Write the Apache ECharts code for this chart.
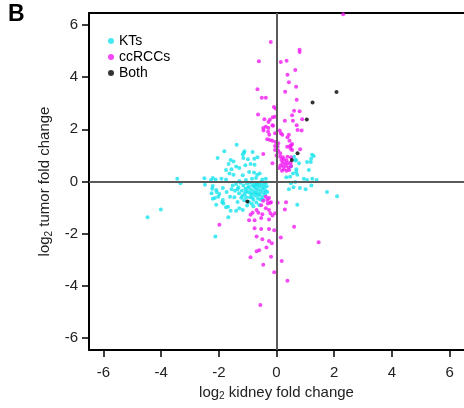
<!DOCTYPE html>
<html>
<head>
<meta charset="utf-8">
<script src="https://cdn.jsdelivr.net/npm/echarts@6/dist/echarts.min.js"></script>
<style>
  html, body { margin: 0; padding: 0; background: #fff; }
  #chart { width: 464px; height: 408px; }
</style>
</head>
<body>
<div id="chart"></div>
<script>
  // tick positions on both axes
  const tickValues = [-6, -4, -2, 0, 2, 4, 6];

  // genes changed in both kidney and tumour
  const bothPoints = [
    [2.08, 3.43], [1.25, 3.02], [1.05, 2.37], [0.73, 1.08], [0.53, 0.82], [-1.01, -0.77]
  ];

  // ccRCC specific
  const ccrccPoints = [
    [2.31, 6.4], [-0.2, 5.34], [0.8, 5.04], [0.8, 4.96], [-0.61, 4.6], [0.15, 4.57], [0.35, 4.62],
    [0.65, 4.27], [0.38, 4.09], [0.43, 3.8], [0.68, 3.63], [-0.66, 3.53], [0.3, 3.44], [-0.51, 3.21],
    [-0.37, 3.21], [0.7, 3.13], [-0.09, 2.85], [-0.03, 2.79], [0.61, 2.71], [0.8, 2.69], [-0.64, 2.56],
    [-0.13, 2.46], [-0.05, 2.48], [0.54, 2.54], [-0.42, 2.38], [-0.23, 2.36], [0.29, 2.33], [0.57, 2.33],
    [0.89, 2.38], [-0.28, 2.28], [-0.14, 2.15], [-0.37, 2.1], [-0.46, 2.05], [-0.28, 2.05], [-0.12, 2.13],
    [0.7, 2.15], [0.73, 1.97], [0.87, 1.95], [-0.45, 1.95], [-0.29, 1.9], [0.11, 1.95], [0.15, 1.85],
    [0.2, 1.79], [0.43, 1.79], [-0.25, 1.79], [-0.05, 1.85], [-0.32, 1.62], [-0.23, 1.59], [-0.14, 1.56],
    [0.38, 1.69], [0.45, 1.56], [-0.03, 1.51], [0.06, 1.46], [0.54, 1.44], [0.47, 1.36], [-0.05, 1.36],
    [0.04, 1.33], [0.37, 1.33], [0.51, 1.39], [0.82, 1.23], [0.49, 1.26], [0.54, 1.21], [-0.46, 1.05],
    [-0.05, 1.21], [0.06, 1.18], [0.13, 1.08], [0.0, 1.0], [0.13, 0.95], [0.22, 0.93], [0.38, 0.95],
    [0.5, 0.93], [-0.14, 0.7],
    [0.17, 0.82], [0.26, 0.85], [0.35, 0.8], [0.21, 0.72], [0.3, 0.7], [0.4, 0.7], [0.49, 0.72],
    [0.14, 0.62], [0.23, 0.57], [0.33, 0.59], [0.42, 0.54], [0.51, 0.59], [0.26, 0.47], [0.35, 0.41],
    [0.19, 0.41], [0.44, 0.44], [0.1, 0.52],
    [-0.37, -0.58], [-0.26, -0.63], [-0.46, -0.74], [-0.3, -0.84], [-0.19, -0.79], [-0.53, -0.91],
    [-0.37, -1.02], [-0.26, -1.09], [-0.69, -1.09], [-0.83, -1.2], [-0.63, -1.2], [-0.49, -1.25],
    [-0.21, -1.22], [-0.05, -1.22], [0.04, -0.81], [0.29, -1.07], [0.33, -0.79], [-0.9, -1.27],
    [-0.95, -1.48], [-0.76, -1.48], [-0.53, -1.4], [-0.26, -1.45], [-0.14, -1.3], [-0.32, -0.71],
    [-0.22, -0.81],
    [-0.76, -1.79], [-0.53, -1.82], [-0.26, -1.82], [-0.08, -1.87], [-0.69, -2.11], [-0.49, -2.21],
    [-0.26, -2.28], [-0.16, -2.36], [-0.35, -2.53], [-0.6, -2.63], [-0.69, -2.67], [-0.9, -2.9],
    [-0.19, -2.88], [-0.46, -3.19], [-0.08, -3.47], [0.18, -3.04], [0.15, -2.14], [0.61, -1.73],
    [0.38, -3.8], [1.46, -2.33], [-0.56, -4.73], [-1.98, -1.66]
  ];

  // kidney tumour (KT) specific
  const ktPoints = [
    [-4.47, -1.37], [-4.01, -1.07], [-3.44, 0.11], [-3.33, -0.07], [-2.12, -2.11], [-1.67, -1.37],
    [-2.09, -0.89],
    [-2.5, 0.12], [-2.48, -0.12], [-2.21, 0.13], [-2.11, 0.08], [-2.27, 0.06], [-1.91, 0.11], [-1.75, 0.08],
    [-2.21, -0.17], [-2.09, -0.33], [-2.25, -0.45], [-1.98, -0.48], [-2.14, -0.63], [-1.88, -0.79],
    [-1.61, -0.58], [-1.73, -0.4], [-1.86, -0.25], [-1.56, -0.3], [-2.23, -0.28], [-2.07, -0.4],
    [-2.21, -0.66], [-1.84, -0.84], [-1.59, -1.12], [-1.4, -1.12], [-1.68, -0.97], [-1.29, -1.02],
    [-1.17, -1.09], [-2.02, -0.58], [-1.86, -0.71], [-1.75, -0.99],
    [-1.38, 1.41], [-1.11, 1.16], [-1.81, 1.16], [-2.04, 0.9], [-1.17, 1.03], [-1.59, 0.82], [-1.49, 0.77],
    [-1.66, 0.67], [-1.15, 0.9], [-0.99, 0.85], [-0.9, 0.67], [-1.08, 0.62], [-0.76, 0.64], [-1.4, 0.57],
    [-1.29, 0.52], [-1.56, 0.47], [-1.75, 0.44], [-0.95, 0.36], [-0.78, 0.34], [-0.67, 0.26], [-0.58, 0.31],
    [-1.63, 0.31], [-1.49, 0.26], [-1.17, 0.24], [-1.13, 1.1], [-0.83, 1.13], [-0.77, 0.87], [-0.66, 0.93],
    [-1.29, 0.02], [-1.06, 0.06], [-0.85, 0.11], [-0.71, 0.13], [-0.49, 0.08], [-0.37, 0.11],
    [-1.4, -0.1], [-1.32, -0.22], [-1.25, -0.05], [-1.2, -0.35], [-1.15, -0.15], [-1.1, -0.48],
    [-1.08, -0.28], [-1.02, -0.08], [-0.98, -0.4], [-0.95, -0.2], [-0.92, -0.6], [-0.9, -0.05],
    [-0.88, -0.32], [-0.85, -0.5], [-0.82, -0.15], [-0.8, -0.7], [-0.78, -0.38], [-0.76, -0.05],
    [-0.74, -0.25], [-0.72, -0.55], [-0.7, -0.12], [-0.68, -0.42], [-0.66, -0.3], [-0.64, -0.65],
    [-0.62, -0.08], [-0.6, -0.2], [-0.58, -0.48], [-0.56, -0.35], [-0.54, -0.02], [-0.52, -0.15],
    [-0.5, -0.58], [-0.48, -0.28], [-0.46, -0.42], [-0.44, -0.1], [-0.42, -0.22], [-0.4, -0.5],
    [-0.38, -0.35], [-0.36, -0.05], [-0.34, -0.18], [-0.32, -0.4], [-1.3, -0.45], [-1.22, -0.62],
    [-1.12, -0.72], [-1.05, -0.6], [-0.96, -0.78], [-0.86, -0.85], [-0.7, -0.8], [-0.62, -0.52],
    [-1.35, -0.3], [-1.18, -0.55], [-1.0, -0.25], [-0.84, -0.62], [-0.78, -0.18], [-0.66, -0.12],
    [-0.55, -0.7], [-0.9, -0.45], [-1.06, -0.38], [-0.74, -0.45], [-1.44, -0.35], [-1.52, -0.15],
    [-1.46, -0.6], [-1.35, -0.78], [-0.48, -0.68], [-0.8, -0.95], [-1.02, -0.92], [-0.6, -0.9],
    [0.61, 0.95], [0.68, 0.82], [0.5, 0.57], [0.57, 0.31], [0.68, 0.36], [0.47, 0.18], [1.29, 0.98],
    [1.2, 0.87], [1.06, 0.75], [0.65, 0.8], [0.78, 0.7], [0.69, 0.47], [0.72, 0.26], [0.65, -0.02],
    [0.95, 0.11], [1.06, 0.06], [1.24, 0.11], [1.01, -0.3], [0.81, -0.25], [1.75, -0.4], [2.1, -0.56],
    [0.72, -0.89], [1.21, -0.15], [1.39, 0.06], [1.23, 1.02], [1.12, 0.44], [1.19, 0.75],
    [0.34, 0.16], [0.5, -0.07], [0.59, -0.22], [0.43, -0.3]
  ];

  const font = 'Liberation Sans, Arial, sans-serif';

  const chart = echarts.init(document.getElementById('chart'));
  chart.setOption({
    animation: false,
    textStyle: { fontFamily: font },
    grid: { left: 89, top: 13, width: 378, bottom: 58 },
    legend: {
      orient: 'vertical',
      left: 103,
      top: 29,
      itemWidth: 6,
      itemHeight: 6,
      itemGap: 2,
      icon: 'circle',
      textStyle: { fontSize: 14, color: '#000', fontFamily: font },
      data: ['KTs', 'ccRCCs', 'Both']
    },
    graphic: [{
      type: 'text',
      left: 8,
      top: 3,
      style: { text: 'B', font: 'bold 23px ' + font, fill: '#000' }
    }],
    xAxis: [{
      type: 'value',
      min: -6.5,
      max: 6.5,
      name: '{a|log}{s|2}{a| kidney fold change}',
      nameLocation: 'middle',
      nameGap: 33,
      nameTextStyle: {
        rich: {
          a: { fontSize: 15, color: '#222', fontFamily: font },
          s: { fontSize: 10, color: '#222', fontFamily: font, padding: [8, 0, 0, 0] }
        }
      },
      axisLine: { onZero: false, lineStyle: { color: '#000', width: 2 } },
      axisTick: { customValues: tickValues, length: 7, lineStyle: { color: '#000', width: 1.5 } },
      axisLabel: { customValues: tickValues, fontSize: 15, color: '#222', margin: 15 },
      splitLine: { show: false }
    }, {
      type: 'value',
      position: 'top',
      min: -6.5,
      max: 6.5,
      axisLine: { onZero: false, lineStyle: { color: '#000', width: 2 } },
      axisTick: { show: false },
      axisLabel: { show: false },
      splitLine: { show: false }
    }],
    yAxis: {
      type: 'value',
      min: -6.45,
      max: 6.45,
      name: '{a|log}{s|2}{a| tumor fold change}',
      nameLocation: 'middle',
      nameRotate: 90,
      nameGap: 32,
      nameTextStyle: {
        rich: {
          a: { fontSize: 15, color: '#222', fontFamily: font },
          s: { fontSize: 10, color: '#222', fontFamily: font, padding: [8, 0, 0, 0] }
        }
      },
      axisLine: { onZero: false, lineStyle: { color: '#000', width: 2 } },
      axisTick: { customValues: tickValues, length: 7, lineStyle: { color: '#000', width: 1.5 } },
      axisLabel: { customValues: tickValues, fontSize: 15, color: '#222', margin: 11 },
      splitLine: { show: false }
    },
    series: [{
      name: 'KTs',
      type: 'scatter',
      symbolSize: 4,
      itemStyle: { color: '#18e4ee' },
      data: ktPoints,
      markLine: {
        silent: true,
        symbol: 'none',
        label: { show: false },
        lineStyle: { color: '#5a5a5a', width: 2, type: 'solid' },
        data: [{ xAxis: 0 }, { yAxis: 0 }]
      }
    }, {
      name: 'ccRCCs',
      type: 'scatter',
      symbolSize: 4,
      itemStyle: { color: '#f21af2' },
      data: ccrccPoints
    }, {
      name: 'Both',
      type: 'scatter',
      symbolSize: 4,
      itemStyle: { color: '#000' },
      data: bothPoints
    }]
  });
</script>
</body>
</html>
